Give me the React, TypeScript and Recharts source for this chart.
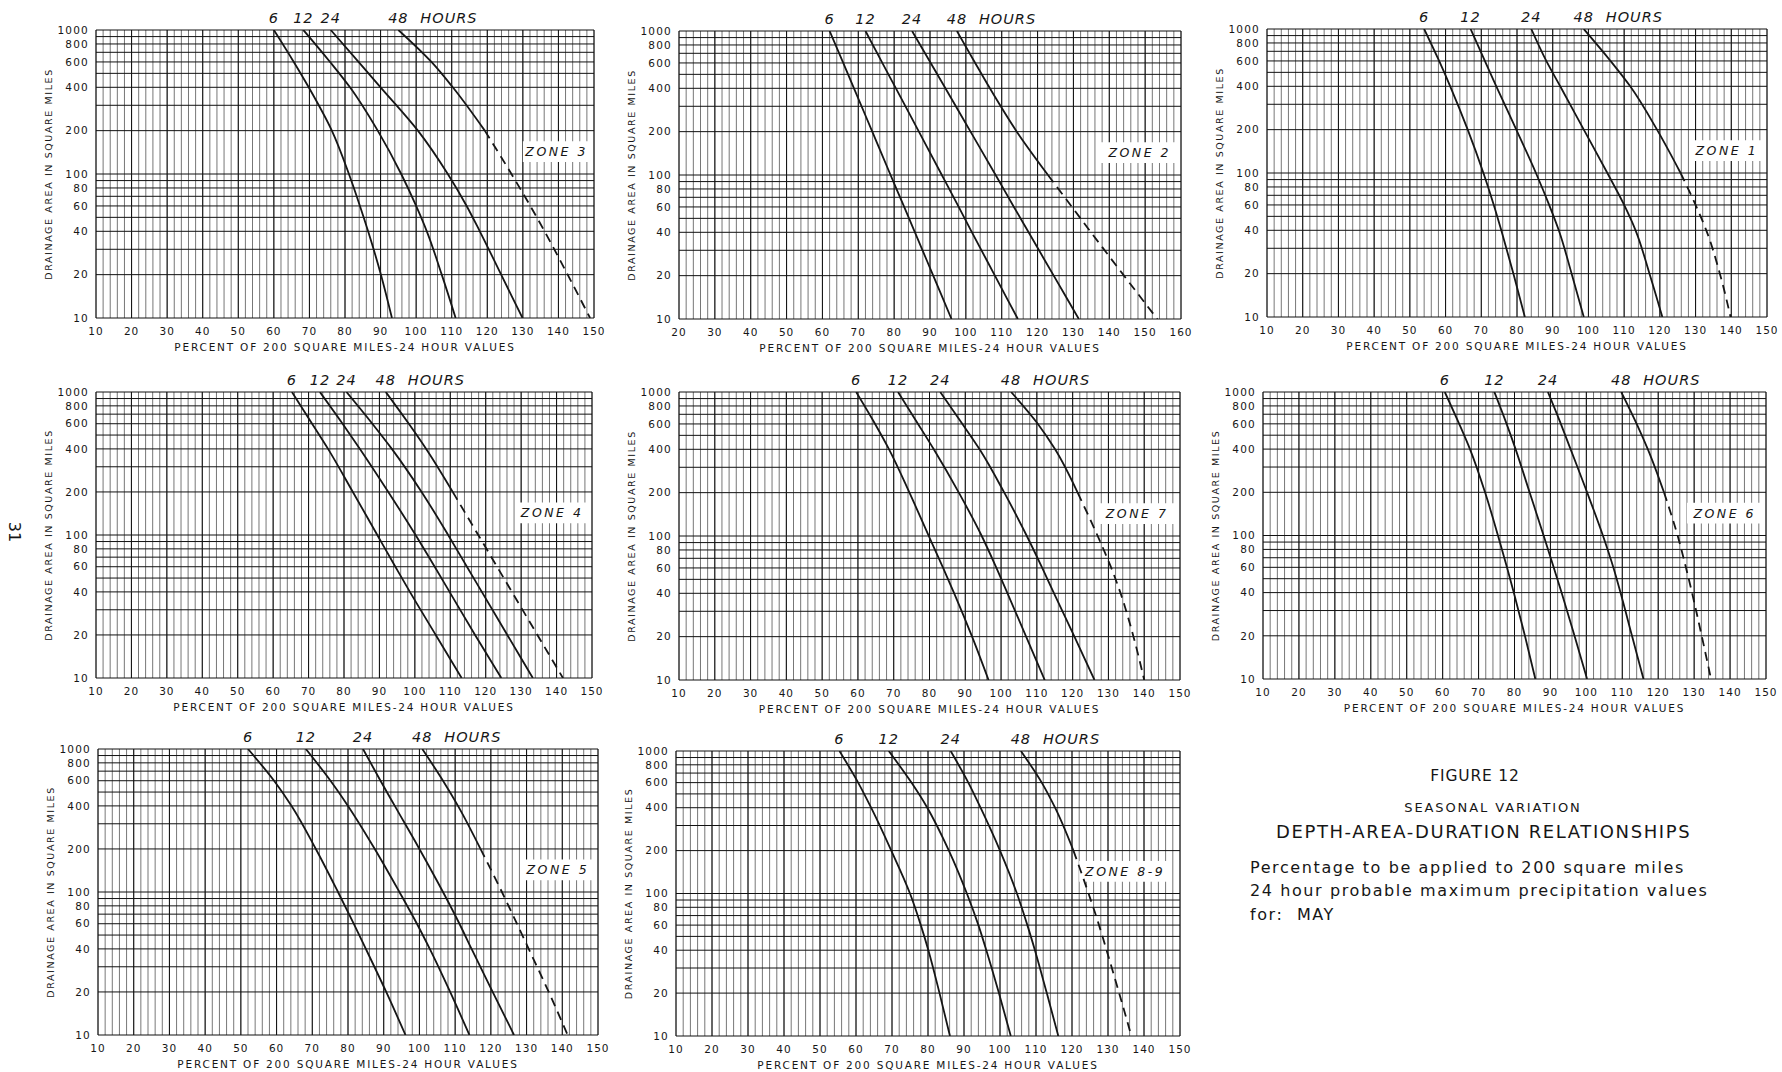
import React from "react";
import {
  CartesianGrid,
  Line,
  LineChart,
  ReferenceArea,
  ReferenceDot,
  XAxis,
  YAxis,
} from "recharts";

const AREAS = [1000, 600, 400, 200, 100, 60, 40, 20, 10];
const Y_TICKS = [10, 20, 40, 60, 80, 100, 200, 400, 600, 800, 1000];
const H_LINES = [10, 20, 30, 40, 50, 60, 70, 80, 90, 100, 200, 300, 400, 500, 600, 700, 800, 900, 1000];
const X_TICKS = [10, 20, 30, 40, 50, 60, 70, 80, 90, 100, 110, 120, 130, 140, 150];
const X_TICKS_Z2 = [20, 30, 40, 50, 60, 70, 80, 90, 100, 110, 120, 130, 140, 150, 160];
const HOURS = ["6", "12", "24", "48"];

// percent of 200 sq mi - 24 hr value, one entry per AREAS row
const Z3_6 = [60, 65.6, 69.8, 76.3, 81.1, 84.2, 86.5, 90.1, 93.2];
const Z3_12 = [68.3, 75.8, 81.4, 89.2, 95.8, 100, 103, 107.2, 111.1];
const Z3_24 = [76, 83.8, 90, 100.5, 108.9, 114.2, 117.9, 123.9, 129.9];
const Z3_48 = [95, 104.3, 110.3, 119.3, 126.8, 132.1, 136.1, 142.6, 148.9];

const Z2_6 = [62, 65.8, 68.8, 73.9, 79, 82.8, 85.8, 90.9, 96];
const Z2_12 = [72, 76.7, 80.5, 86.9, 93.3, 98, 101.7, 108.1, 114.5];
const Z2_24 = [85, 90.2, 94.3, 101.3, 108.3, 113.4, 117.5, 124.5, 131.5];
const Z2_48 = [97.5, 102.6, 106.7, 114.2, 122.9, 129.6, 134.9, 144.1, 153.4];

const Z1_6 = [54, 58.2, 61.3, 66.2, 70.6, 73.5, 75.6, 79, 82.2];
const Z1_12 = [67, 71, 74.2, 79.8, 85.3, 89, 91.7, 95.3, 98.7];
const Z1_24 = [84, 88.2, 92.1, 98.7, 105.3, 110, 113.2, 117.1, 120.7];
const Z1_48 = [98.7, 106.2, 111.7, 119.2, 125.8, 130, 133, 136.8, 139.8];

const Z4_6 = [65.3, 71, 75.5, 82.5, 89.4, 94.5, 98.6, 105.9, 113.2];
const Z4_12 = [73.2, 79.6, 84.5, 92.5, 100.2, 105.6, 109.8, 117, 124.4];
const Z4_24 = [80.7, 88, 93.5, 101.9, 109.4, 114.7, 118.9, 126.1, 133.3];
const Z4_48 = [91.8, 98.3, 103.2, 110.7, 117.9, 123.2, 127.4, 134.6, 141.8];

const Z7_6 = [59.5, 64.8, 68.7, 74.4, 79.8, 83.8, 86.9, 91.9, 96.5];
const Z7_12 = [71.2, 76.8, 81.2, 88.2, 94.6, 98.7, 101.8, 107, 112.2];
const Z7_24 = [83, 89.2, 94, 100.9, 107.2, 111.5, 114.8, 120.5, 126.1];
const Z7_48 = [102.8, 110.3, 115.1, 121.4, 127, 130.8, 133.4, 137, 140];

const Z6_6 = [60.6, 64.6, 67.6, 71.8, 75.4, 77.9, 79.8, 82.9, 85.8];
const Z6_12 = [74.4, 77.8, 80.3, 84.2, 88.1, 90.9, 93.1, 96.7, 100.2];
const Z6_24 = [89.3, 92.9, 95.6, 100.2, 104.6, 107.5, 109.5, 112.7, 115.9];
const Z6_48 = [109.7, 114, 117.1, 121.6, 125.4, 127.7, 129.4, 132.1, 134.7];

const Z5_6 = [52, 59.3, 64.2, 71, 77.2, 81.6, 85, 90.7, 96.1];
const Z5_12 = [68.2, 75.1, 80, 87.5, 94.4, 99.3, 102.9, 108.6, 114];
const Z5_24 = [84.2, 89.1, 93.1, 100, 106.6, 111.2, 114.6, 120.5, 126.5];
const Z5_48 = [100.8, 106.6, 110.8, 117.1, 123.1, 127.3, 130.6, 136.2, 141.5];

const Z89_6 = [55.4, 60.6, 64.2, 69.8, 75, 78, 80.1, 83.2, 86.1];
const Z89_12 = [69.1, 75.4, 79.8, 85.8, 90.8, 94, 96.2, 99.7, 103];
const Z89_24 = [86.3, 91.2, 94.6, 100, 104.7, 107.6, 109.7, 113, 116.2];
const Z89_48 = [105.8, 111.6, 115.3, 120.4, 124.6, 127.5, 129.6, 133.1, 136.5];

// 48 hour curve turns dashed below dashFrom
const ZONES = [
  { name: "ZONE 3", ticks: X_TICKS, curves: [Z3_6, Z3_12, Z3_24, Z3_48], dashFrom: 200 },
  { name: "ZONE 2", ticks: X_TICKS_Z2, curves: [Z2_6, Z2_12, Z2_24, Z2_48], dashFrom: 100 },
  { name: "ZONE 1", ticks: X_TICKS, curves: [Z1_6, Z1_12, Z1_24, Z1_48], dashFrom: 100 },
  { name: "ZONE 4", ticks: X_TICKS, curves: [Z4_6, Z4_12, Z4_24, Z4_48], dashFrom: 200 },
  { name: "ZONE 7", ticks: X_TICKS, curves: [Z7_6, Z7_12, Z7_24, Z7_48], dashFrom: 200 },
  { name: "ZONE 6", ticks: X_TICKS, curves: [Z6_6, Z6_12, Z6_24, Z6_48], dashFrom: 200 },
  { name: "ZONE 5", ticks: X_TICKS, curves: [Z5_6, Z5_12, Z5_24, Z5_48], dashFrom: 200 },
  { name: "ZONE 8-9", ticks: X_TICKS, curves: [Z89_6, Z89_12, Z89_24, Z89_48], dashFrom: 200 },
];

// plot-area placement on the sheet, and the label box in data units
const PANELS = [
  { left: 96, top: 30, w: 498, h: 288, box: [130, 149] },
  { left: 679, top: 31, w: 502, h: 288, box: [137.5, 159.5] },
  { left: 1267, top: 29, w: 500, h: 288, box: [128.5, 149] },
  { left: 96, top: 392, w: 496, h: 286, box: [128.5, 149] },
  { left: 679, top: 392, w: 501, h: 288, box: [127, 149] },
  { left: 1263, top: 392, w: 503, h: 287, box: [128, 149] },
  { left: 98, top: 749, w: 500, h: 286, box: [128.5, 149] },
  { left: 676, top: 751, w: 504, h: 285, box: [122, 147.5] },
];

const INK = "#161616";
const FONT = "'DejaVu Sans', sans-serif";
const HOUR_STYLE = { fontSize: 14.5, fontStyle: "italic", fill: INK, letterSpacing: 1 } as const;

const toPoints = (pcts: number[]) => pcts.map((pct, i) => ({ pct, area: AREAS[i] }));

const hourLabel = (text: string, last: boolean) => (props: any) => {
  const vb = props.viewBox || {};
  const x = vb.x ?? 0;
  const y = (vb.y ?? 0) - 7;
  return (
    <g>
      <text x={x} y={y} textAnchor="middle" style={HOUR_STYLE}>
        {text}
      </text>
      {last && (
        <text x={x + 22} y={y} textAnchor="start" style={HOUR_STYLE}>
          HOURS
        </text>
      )}
    </g>
  );
};

function ZoneChart({ zone, panel }: { zone: (typeof ZONES)[number]; panel: (typeof PANELS)[number] }) {
  const mL = 60;
  const mT = 30;
  const mR = 16;
  const axH = 46;
  const pts = zone.curves.map(toPoints);
  const solid48 = pts[3].filter((p) => p.area >= zone.dashFrom);
  const dash48 = pts[3].filter((p) => p.area <= zone.dashFrom);
  const lo = zone.ticks[0];
  const hi = zone.ticks[zone.ticks.length - 1];
  const minorX: number[] = [];
  for (let v = lo; v <= hi; v += 2) minorX.push(v);

  const line = (data: { pct: number; area: number }[], dashed = false) => (
    <Line
      data={data}
      dataKey="area"
      type="monotoneY"
      stroke={INK}
      strokeWidth={1.8}
      strokeDasharray={dashed ? "9 6" : undefined}
      dot={false}
      isAnimationActive={false}
    />
  );

  return (
    <div style={{ position: "absolute", left: panel.left - mL, top: panel.top - mT }}>
      <LineChart
        width={mL + panel.w + mR}
        height={mT + panel.h + axH}
        margin={{ top: mT, right: mR, bottom: 0, left: 0 }}
      >
        <CartesianGrid horizontal={false} verticalValues={minorX} stroke="#3c3c3c" strokeWidth={0.7} />
        <CartesianGrid horizontalValues={H_LINES} verticalValues={zone.ticks} stroke="#111" strokeWidth={1} />
        <XAxis
          type="number"
          dataKey="pct"
          domain={[lo, hi]}
          ticks={zone.ticks}
          interval={0}
          allowDataOverflow
          axisLine={false}
          tickLine={false}
          tickMargin={4}
          height={axH}
          tick={{ fontSize: 10.5, fill: INK, letterSpacing: 1 }}
          label={{
            value: "PERCENT OF 200 SQUARE MILES-24 HOUR VALUES",
            position: "insideBottom",
            offset: 13,
            fontSize: 10.5,
            fill: INK,
            letterSpacing: 1.8,
          }}
        />
        <YAxis
          type="number"
          scale="log"
          domain={[10, 1000]}
          ticks={Y_TICKS}
          interval={0}
          allowDataOverflow
          width={mL}
          axisLine={false}
          tickLine={false}
          tickSize={5}
          tickMargin={2}
          tick={{ fontSize: 10.5, fill: INK, letterSpacing: 1.2 }}
          label={{
            value: "DRAINAGE AREA IN SQUARE MILES",
            angle: -90,
            position: "insideLeft",
            offset: 13,
            fontSize: 9.5,
            fill: INK,
            letterSpacing: 1.6,
            style: { textAnchor: "middle" },
          }}
        />
        <ReferenceArea
          x1={panel.box[0]}
          x2={panel.box[1]}
          y1={121}
          y2={169}
          fill="#fff"
          fillOpacity={1}
          stroke="none"
          ifOverflow="visible"
          label={{ value: zone.name, position: "center", fontSize: 12.5, fontStyle: "italic", fill: INK, letterSpacing: 2.5 }}
        />
        {line(pts[0])}
        {line(pts[1])}
        {line(pts[2])}
        {line(solid48)}
        {line(dash48, true)}
        {HOURS.map((hr, i) => (
          <ReferenceDot
            key={hr}
            x={zone.curves[i][0]}
            y={1000}
            r={0}
            fill="none"
            stroke="none"
            ifOverflow="visible"
            label={hourLabel(hr, i === 3)}
          />
        ))}
      </LineChart>
    </div>
  );
}

const textLine = (extra: React.CSSProperties): React.CSSProperties => ({
  position: "absolute",
  whiteSpace: "nowrap",
  lineHeight: 1,
  color: INK,
  ...extra,
});

export default function App() {
  return (
    <div
      style={{
        position: "absolute",
        left: 0,
        top: 0,
        width: 1782,
        height: 1072,
        background: "#fff",
        fontFamily: FONT,
        overflow: "hidden",
      }}
    >
      {ZONES.map((z, i) => (
        <ZoneChart key={z.name} zone={z} panel={PANELS[i]} />
      ))}

      <div style={textLine({ left: 4, top: 524, fontSize: 16, transform: "rotate(90deg)" })}>31</div>

      <div style={textLine({ left: 1375, width: 200, top: 769, fontSize: 15.5, letterSpacing: 0.8, textAlign: "center" })}>
        FIGURE 12
      </div>
      <div style={textLine({ left: 1393, width: 200, top: 800.5, fontSize: 13, letterSpacing: 1.9, textAlign: "center" })}>
        SEASONAL VARIATION
      </div>
      <div style={textLine({ left: 1276, top: 823, fontSize: 18, letterSpacing: 1.6 })}>
        DEPTH-AREA-DURATION RELATIONSHIPS
      </div>
      <div style={textLine({ left: 1250, top: 859.5, fontSize: 16, letterSpacing: 1.6 })}>
        Percentage to be applied to 200 square miles
      </div>
      <div style={textLine({ left: 1250, top: 882.5, fontSize: 16, letterSpacing: 1.6 })}>
        24 hour probable maximum precipitation values
      </div>
      <div style={textLine({ left: 1250, top: 906.5, fontSize: 16, letterSpacing: 1.6 })}>
        for:&nbsp;&nbsp;MAY
      </div>
    </div>
  );
}
